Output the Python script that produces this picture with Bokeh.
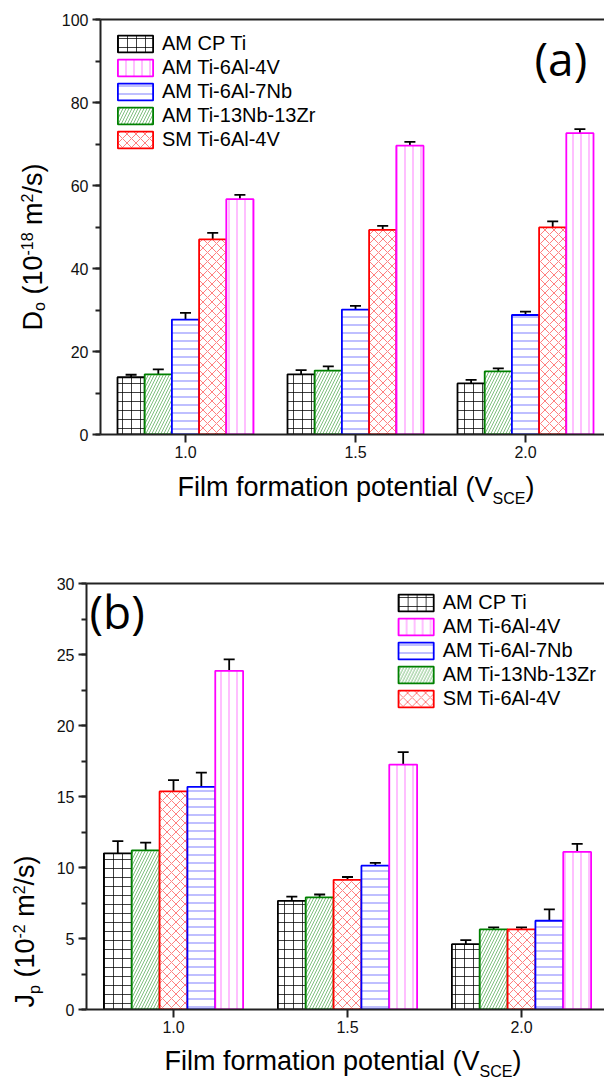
import numpy as np
import pandas as pd
from bokeh.plotting import figure
from bokeh.models import (ColumnDataSource, Range1d, FixedTicker, SingleIntervalTicker,
                          PrintfTickFormatter, LinearAxis, Whisker, TeeHead, Legend,
                          LegendItem, GridBox)
from bokeh.core.properties import value
from bokeh.transform import dodge
from bokeh.embed import file_html
from bokeh.resources import INLINE

# ---------------- data ----------------
potentials = [1.0, 1.5, 2.0]
x_ticks = [1.0, 1.5, 2.0]
series_names = ["AM CP Ti", "AM Ti-6Al-4V", "AM Ti-6Al-7Nb", "AM Ti-13Nb-13Zr", "SM Ti-6Al-4V"]

# panel (a): D_o (10^-18 m^2/s)
do_cp = [13.8, 14.5, 12.3]
do_cp_err = [0.6, 1.0, 0.85]
do_64 = [56.7, 69.6, 72.6]
do_64_err = [1.05, 0.9, 1.0]
do_7nb = [27.7, 30.1, 28.8]
do_7nb_err = [1.6, 0.9, 0.8]
do_13 = [14.5, 15.4, 15.2]
do_13_err = [1.2, 1.0, 0.75]
do_sm = [47.0, 49.3, 49.9]
do_sm_err = [1.6, 0.95, 1.45]

# panel (b): J_p (10^-2 m^2/s)
jp_cp = [11.0, 7.65, 4.6]
jp_cp_err = [0.86, 0.3, 0.28]
jp_64 = [23.85, 17.25, 11.1]
jp_64_err = [0.8, 0.87, 0.56]
jp_7nb = [15.68, 10.13, 6.25]
jp_7nb_err = [1.0, 0.2, 0.8]
jp_13 = [11.2, 7.9, 5.64]
jp_13_err = [0.55, 0.2, 0.15]
jp_sm = [15.36, 9.13, 5.64]
jp_sm_err = [0.8, 0.2, 0.15]

# ---------------- styles ----------------
colors = {"AM CP Ti": "#000000", "AM Ti-6Al-4V": "#FF00FF", "AM Ti-6Al-7Nb": "#0000FF",
          "AM Ti-13Nb-13Zr": "#008000", "SM Ti-6Al-4V": "#FF0000"}
hatches = {"AM CP Ti": "cross", "AM Ti-6Al-4V": "vertical_line", "AM Ti-6Al-7Nb": "horizontal_line",
           "AM Ti-13Nb-13Zr": "right_diagonal_line", "SM Ti-6Al-4V": "diagonal_cross"}
hscale = {"AM CP Ti": 9, "AM Ti-6Al-4V": 8, "AM Ti-6Al-7Nb": 8,
          "AM Ti-13Nb-13Zr": 6, "SM Ti-6Al-4V": 9}
halpha = {"AM CP Ti": 0.75, "AM Ti-6Al-4V": 0.5, "AM Ti-6Al-7Nb": 0.5,
          "AM Ti-13Nb-13Zr": 0.5, "SM Ti-6Al-4V": 0.5}

FONT = "Liberation Sans"
TAG_FONT = "Open Sans"
W, H = 604, 1081
AW = {' ': 278, '(': 333, ')': 333, '-': 333, '/': 278, 'D': 722, 'o': 556, 'm': 833, 's': 500,
      'J': 500, 'p': 556, 'F': 611, 'i': 222, 'l': 222, 'f': 278, 'r': 333, 'a': 556, 't': 278,
      'n': 556, 'e': 556, 'V': 667, 'S': 667, 'C': 722, 'E': 667}
for d in "0123456789":
    AW[d] = 556
# anchor correction (fraction of font size) observed for the text glyph's baseline
KFIX = {FONT: 0.347, TAG_FONT: 0.388}


def tw(s, size):
    return sum(AW.get(c, 556) for c in s) * size / 1000.0


def style_axis(ax):
    ax.axis_line_width = 2
    ax.axis_line_color = "#222222"
    ax.major_tick_line_width = 2
    ax.major_tick_line_color = "#222222"
    ax.minor_tick_line_width = 2
    ax.minor_tick_line_color = "#222222"
    ax.major_tick_in = 0
    ax.major_tick_out = 8
    ax.minor_tick_in = 0
    ax.minor_tick_out = 5
    ax.major_label_text_font = FONT
    ax.major_label_text_font_size = "16px"
    ax.major_label_text_color = "#111111"


def make_panel(vals, errs, slots, y_end, y_interval, fig_h, b_top, b_bottom, b_left, ppu,
               legend_loc, legend_margin):
    frame_w = W - b_left
    p = figure(width=W, height=fig_h, x_range=Range1d(0.75, 0.75 + frame_w / ppu),
               y_range=Range1d(0, y_end), output_backend="svg", toolbar_location=None,
               min_border_left=b_left, min_border_right=0, min_border_top=b_top,
               min_border_bottom=b_bottom, x_axis_type=None, y_axis_type=None)
    p.frame_align = False
    p.outline_line_color = None
    p.xgrid.visible = False
    p.ygrid.visible = False

    xa = LinearAxis(ticker=FixedTicker(ticks=x_ticks, minor_ticks=[]),
                    formatter=PrintfTickFormatter(format="%.1f"))
    style_axis(xa)
    xa.major_label_standoff = 3
    p.add_layout(xa, "below")
    ya = LinearAxis(ticker=SingleIntervalTicker(interval=y_interval, num_minor_ticks=2))
    style_axis(ya)
    ya.major_label_standoff = 4
    p.add_layout(ya, "left")
    ta = LinearAxis(ticker=FixedTicker(ticks=[], minor_ticks=[]))
    style_axis(ta)
    ta.major_tick_out = 0
    ta.minor_tick_out = 0
    ta.major_label_text_font_size = "0px"
    p.add_layout(ta, "above")

    rends = {}
    order = sorted(series_names, key=lambda n: slots[n])
    for name in order:
        off = (slots[name] - 2) * 0.08
        v = np.array(vals[name])
        e = np.array(errs[name])
        src = ColumnDataSource(dict(x=potentials, top=v, upper=v + e, lower=v - e))
        c = colors[name]
        r = p.vbar(x=dodge("x", off, range=p.x_range), top="top", bottom=0, width=0.08, source=src,
                   fill_color="white", line_color=c, line_width=1.8,
                   hatch_pattern=hatches[name], hatch_color=c, hatch_alpha=halpha[name],
                   hatch_scale=hscale[name], hatch_weight=1)
        rends[name] = (r, src, off)
    for name in order:
        r, src, off = rends[name]
        w = Whisker(base=dodge("x", off, range=p.x_range), upper="upper", lower="lower", source=src,
                    line_color="black", line_width=1.8,
                    upper_head=TeeHead(size=11, line_width=1.8, line_color="black"),
                    lower_head=TeeHead(size=11, line_width=1.8, line_color="black"))
        p.add_layout(w)

    items = [LegendItem(label=n, renderers=[rends[n][0]]) for n in series_names]
    leg = Legend(items=items, location=legend_loc, margin=legend_margin, padding=0,
                 border_line_color=None, background_fill_alpha=0, glyph_width=44, glyph_height=21,
                 label_height=21, spacing=1, label_standoff=5, label_text_font=FONT,
                 label_text_font_size="20px", label_text_color="black")
    p.add_layout(leg, "center")
    return p


slots_a = {"AM CP Ti": 0, "AM Ti-13Nb-13Zr": 1, "AM Ti-6Al-7Nb": 2, "SM Ti-6Al-4V": 3, "AM Ti-6Al-4V": 4}
slots_b = {"AM CP Ti": 0, "AM Ti-13Nb-13Zr": 1, "SM Ti-6Al-4V": 2, "AM Ti-6Al-7Nb": 3, "AM Ti-6Al-4V": 4}

vals_a = {"AM CP Ti": do_cp, "AM Ti-6Al-4V": do_64, "AM Ti-6Al-7Nb": do_7nb,
          "AM Ti-13Nb-13Zr": do_13, "SM Ti-6Al-4V": do_sm}
errs_a = {"AM CP Ti": do_cp_err, "AM Ti-6Al-4V": do_64_err, "AM Ti-6Al-7Nb": do_7nb_err,
          "AM Ti-13Nb-13Zr": do_13_err, "SM Ti-6Al-4V": do_sm_err}
vals_b = {"AM CP Ti": jp_cp, "AM Ti-6Al-4V": jp_64, "AM Ti-6Al-7Nb": jp_7nb,
          "AM Ti-13Nb-13Zr": jp_13, "SM Ti-6Al-4V": jp_sm}
errs_b = {"AM CP Ti": jp_cp_err, "AM Ti-6Al-4V": jp_64_err, "AM Ti-6Al-7Nb": jp_7nb_err,
          "AM Ti-13Nb-13Zr": jp_13_err, "SM Ti-6Al-4V": jp_sm_err}

pa = make_panel(vals_a, errs_a, slots_a, 100, 20, 530, 19, 96, 100, 340, "top_left", 13)
pb = make_panel(vals_b, errs_b, slots_b, 30, 5, 551, 53, 72, 86, 348, "top_right", 8)

# ---------------- transparent overlay for the axis titles ----------------
ov = figure(width=W, height=H, x_range=Range1d(0, W), y_range=Range1d(0, H),
            output_backend="svg", toolbar_location=None, min_border=0,
            x_axis_type=None, y_axis_type=None)
ov.frame_align = False
ov.outline_line_color = None
ov.background_fill_alpha = 0
ov.border_fill_alpha = 0
ov.xgrid.visible = False
ov.ygrid.visible = False

rows = {"x": [], "y": [], "text": [], "size": [], "angle": []}


def add_pieces(pieces, px, py, vertical):
    """pieces: (text, font px, baseline shift up); px, py: page pixels of the start/baseline."""
    pos = 0.0
    for txt, size, shift in pieces:
        lead = len(txt) - len(txt.lstrip(" "))
        pos += tw(" " * lead, size)
        body = txt.strip(" ")
        fix = KFIX[FONT] * size
        if vertical:
            x, y, ang = px - shift - fix, (H - py) + pos, np.pi / 2
        else:
            x, y, ang = px + pos, (H - py) + shift + fix, 0.0
        rows["x"].append(x)
        rows["y"].append(y)
        rows["text"].append(body)
        rows["size"].append(f"{size}px")
        rows["angle"].append(ang)
        pos += tw(body, size)


xlabel_pieces = [("Film formation potential (V", 27, 0), ("SCE", 16, -8), (")", 27, 0)]
add_pieces(xlabel_pieces, 177, 496, False)
xlabel_pieces_b = [("Film formation potential (V", 27, 0), ("SCE", 16, -7), (")", 27, 0)]
add_pieces(xlabel_pieces_b, 164, 1070, False)

ya_pieces = [("D", 27, 0), ("o", 16, -3), (" (10", 27, 0), ("-18", 16, 10), (" m", 27, 0),
             ("2", 16, 10), ("/s)", 27, 0)]
add_pieces(ya_pieces, 42, 330, True)
yb_pieces = [("J", 27, 0), ("p", 16, -6), (" (10", 27, 0), ("-2", 16, 10), (" m", 27, 0),
             ("2", 16, 10), ("/s)", 27, 0)]
add_pieces(yb_pieces, 34, 1007, True)

ov.text(x="x", y="y", text="text", angle="angle", text_font_size="size",
        text_font=value(FONT), text_color="black", text_align="left",
        text_baseline="alphabetic", source=ColumnDataSource(rows))

panel_tags = ["(a)", "(b)"]
tag_fix = KFIX[TAG_FONT] * 46
ov.text(x=[534, 89], y=[H - 75 + tag_fix, H - 628 + tag_fix], text=panel_tags,
        text_font=value(TAG_FONT), text_font_size=value("46px"), text_color="black",
        text_align="left", text_baseline="alphabetic")

layout = GridBox(children=[(pa, 0, 0), (pb, 1, 0), (ov, 0, 0, 2, 1)], spacing=0)
open("out.html", "w").write(file_html(layout, INLINE))
